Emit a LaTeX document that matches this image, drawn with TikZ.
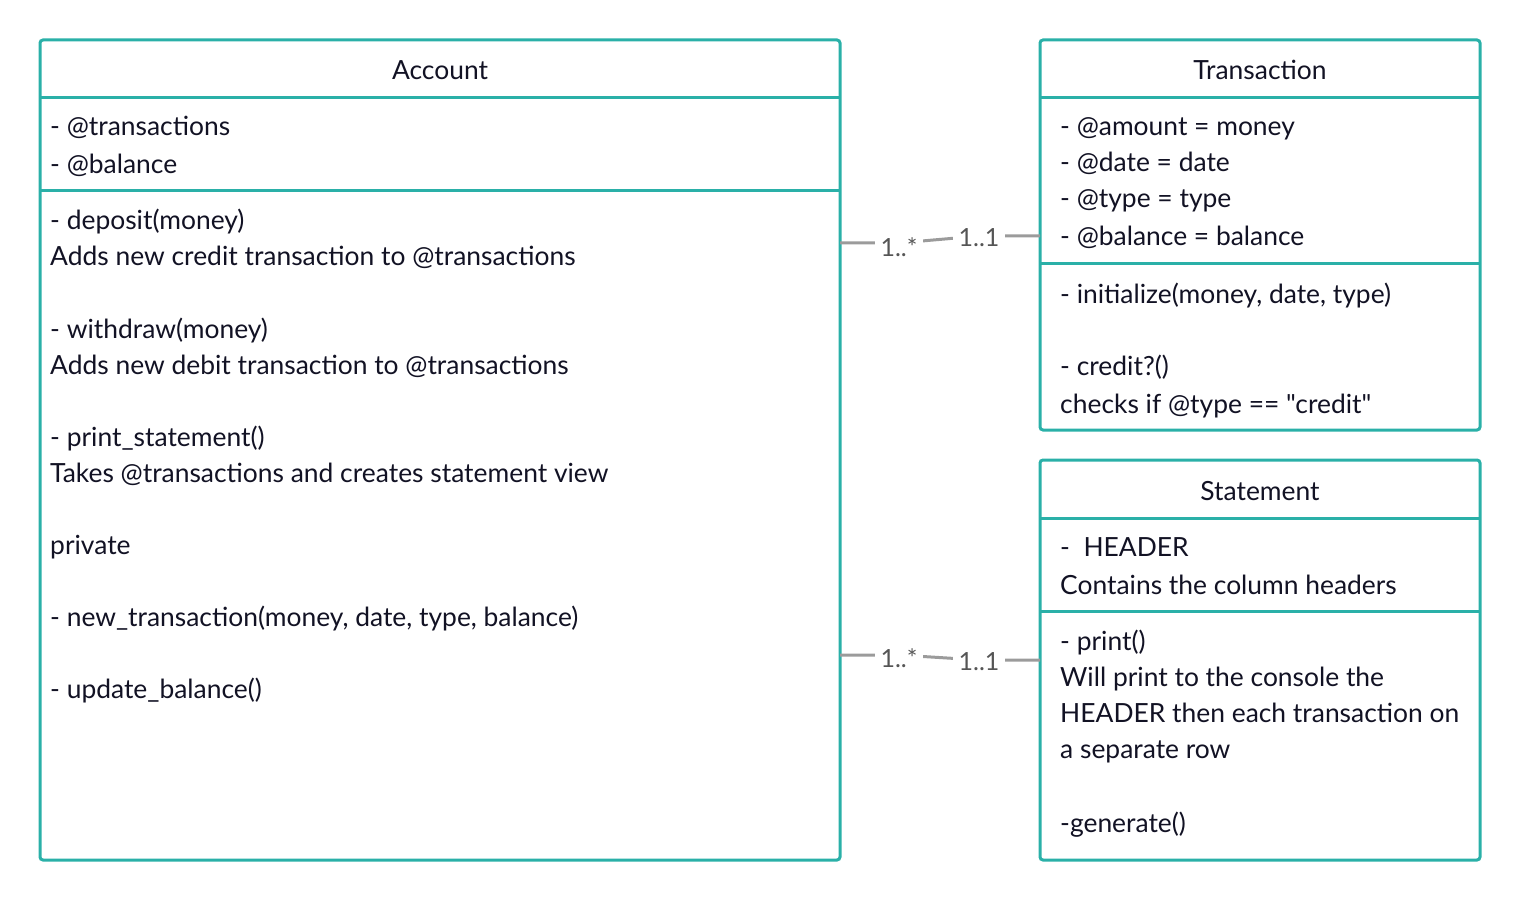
\documentclass[tikz,border=0pt]{standalone}
\usepackage{fontspec}
\setmainfont{Lato}[Ligatures=TeXOff]
\definecolor{teal}{RGB}{42,176,168}
\definecolor{ink}{RGB}{18,18,36}
\definecolor{conncol}{RGB}{155,155,155}
\definecolor{lblcol}{RGB}{85,85,85}
\tikzset{
  cls/.style={draw=teal, line width=3pt, rounded corners=3pt, inner sep=0pt, outer sep=0pt, anchor=north west, fill=white},
  divider/.style={draw=teal, line width=3pt},
  txt/.style={anchor=base west, inner sep=0pt, font=\fontsize{26.4}{30}\selectfont, text=ink},
  ttl/.style={anchor=base, inner sep=0pt, font=\fontsize{26.4}{30}\selectfont, text=ink},
  conn/.style={draw=conncol, line width=3pt},
  mult/.style={fill=white, inner xsep=6pt, inner ysep=3pt, font=\fontsize{25}{30}\selectfont, text=lblcol}
}
\begin{document}
\begin{tikzpicture}[x=1pt,y=-1pt]
\useasboundingbox (0,0) rectangle (1520,901);
% boxes
\node[cls, minimum width=800pt, minimum height=820pt] (account) at (40,40) {};
\node[cls, minimum width=440pt, minimum height=390pt] (transaction) at (1040,40) {};
\node[cls, minimum width=440pt, minimum height=400pt] (statement) at (1040,460) {};
% dividers
\draw[divider] (account.west |- {(0,98)}) -- (account.east |- {(0,98)});
\draw[divider] (account.west |- {(0,191)}) -- (account.east |- {(0,191)});
\draw[divider] (transaction.west |- {(0,98)}) -- (transaction.east |- {(0,98)});
\draw[divider] (transaction.west |- {(0,264)}) -- (transaction.east |- {(0,264)});
\draw[divider] (statement.west |- {(0,518)}) -- (statement.east |- {(0,518)});
\draw[divider] (statement.west |- {(0,611)}) -- (statement.east |- {(0,611)});
% Account text
\node[ttl] (acct) at (440,80) {Account};
\node[txt] (a1) at (50,136) {- @transactions};
\node[txt] (a2) at (50,174) {- @balance};
\node[txt] (a3) at (50,230) {- deposit(money)};
\node[txt] (a4) at (50,266) {Adds new credit transaction to @transactions};
\node[txt] (a5) at (50,338) {- withdraw(money)};
\node[txt] (a6) at (50,374) {Adds new debit transaction to @transactions};
\node[txt] (a7) at (50,446) {- print\_statement()};
\node[txt] (a8) at (50,482) {Takes @transactions and creates statement view};
\node[txt] (a9) at (50,554) {private};
\node[txt] (a10) at (50,626) {- new\_transaction(money, date, type, balance)};
\node[txt] (a11) at (50,698) {- update\_balance()};
% Transaction text
\node[ttl] (trt) at (1260,80) {Transaction};
\node[txt] (t1) at (1060,136) {- @amount = money};
\node[txt] (t2) at (1060,172) {- @date = date};
\node[txt] (t3) at (1060,208) {- @type = type};
\node[txt] (t4) at (1060,246) {- @balance = balance};
\node[txt] (t5) at (1060,303) {- initialize(money, date, type)};
\node[txt] (t6) at (1060,375) {- credit?()};
\node[txt] (t7) at (1060,413) {checks if @type == "credit"};
% Statement text
\node[ttl] (stt) at (1260,500) {Statement};
\node[txt] (s1) at (1060,556) {-\ \ HEADER};
\node[txt] (s2) at (1060,594) {Contains the column headers};
\node[txt] (s3) at (1060,650) {- print()};
\node[txt] (s4) at (1060,686) {Will print to the console the};
\node[txt] (s5) at (1060,722) {HEADER then each transaction on};
\node[txt] (s6) at (1060,758) {a separate row};
\node[txt] (s7) at (1060,832) {-generate()};
% connectors
\draw[conn] (account.east |- {(0,243)}) -- (899,243) -- (979,236) -- (transaction.west |- {(0,236)});
\node[mult] (m1) at (899,247) {1..*};
\node[mult] (m2) at (979,238) {1..1};
\draw[conn] (account.east |- {(0,655)}) -- (899,655) -- (979,660) -- (statement.west |- {(0,660)});
\node[mult] (m3) at (899,658) {1..*};
\node[mult] (m4) at (979,662) {1..1};
\end{tikzpicture}
\end{document}
